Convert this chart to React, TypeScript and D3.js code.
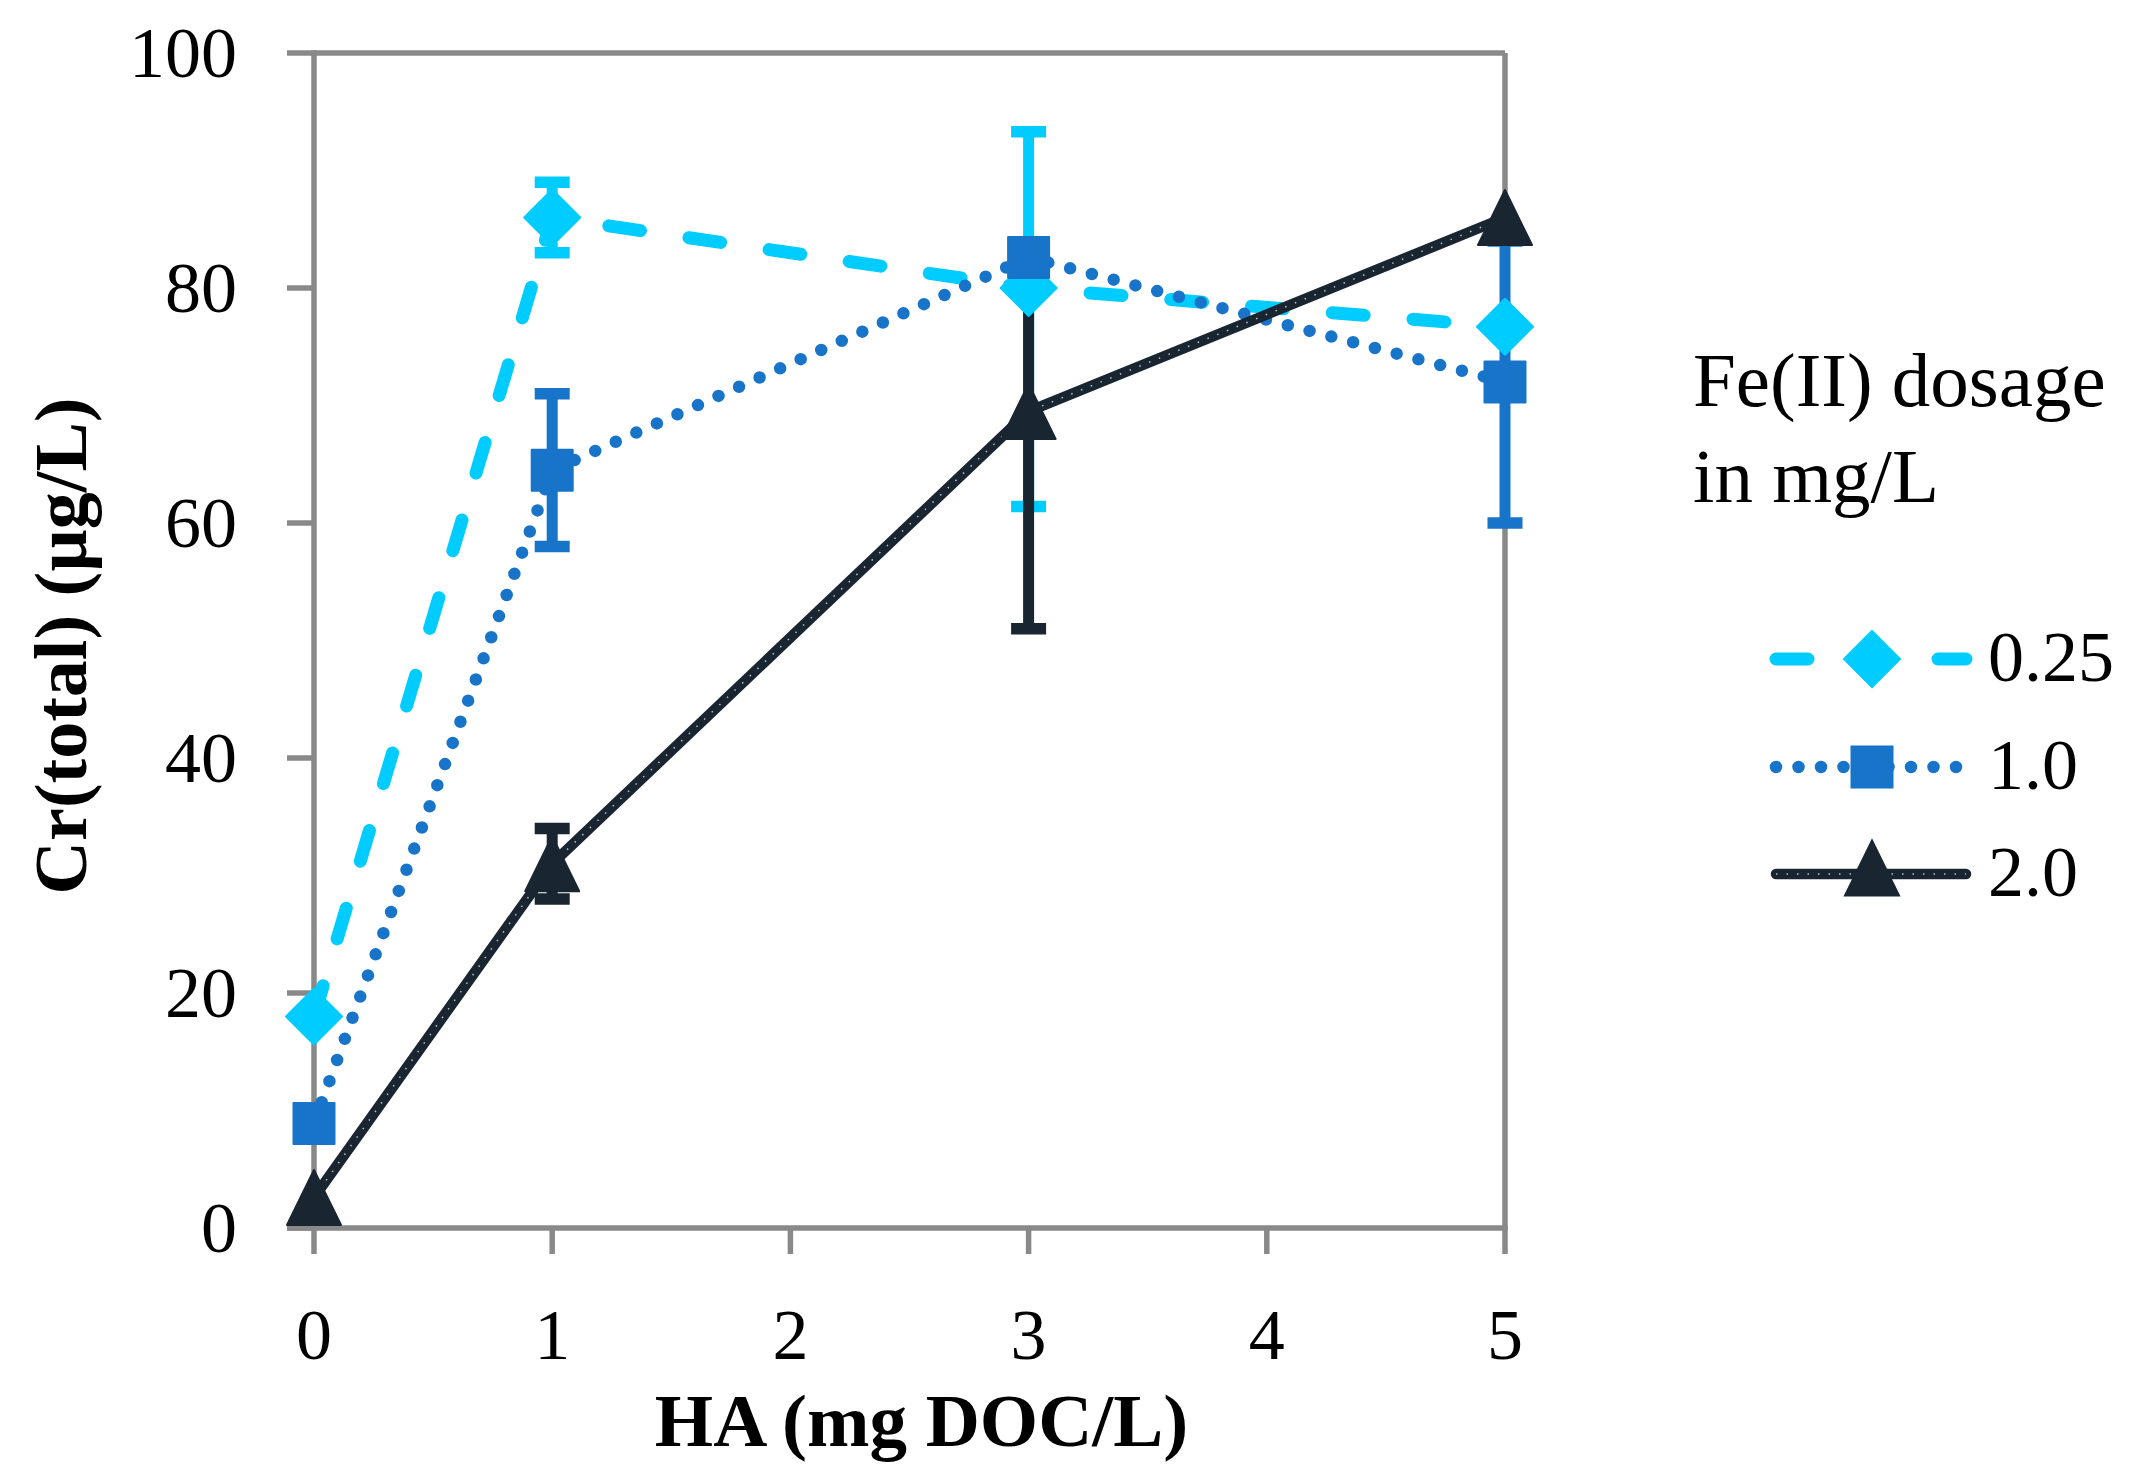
import { useEffect, useRef } from "react";
import * as d3 from "d3";

// HA dose on the x axis (mg DOC/L)
const haDoses = [0, 1, 3, 5];
const xTicks = [0, 1, 2, 3, 4, 5];
const yTicks = [0, 20, 40, 60, 80, 100];

const seriesNames = ["0.25", "1.0", "2.0"];

// Cr(total) in µg/L, with error bar ends
const crFe025 = [18, 86, 80, 76.7];
const lowFe025 = [18, 83, 61.4, 76.7];
const highFe025 = [18, 89, 93.3, 76.7];

const crFe10 = [8.9, 64.5, 82.6, 72];
const lowFe10 = [8.9, 58, 82.6, 60];
const highFe10 = [8.9, 71, 82.6, 84];

const crFe20 = [2.6, 31, 69.5, 86];
const lowFe20 = [2.6, 28, 51, 86];
const highFe20 = [2.6, 34, 82, 86];

const FONT = "'Palatino Linotype', 'Book Antiqua', Palatino, 'Liberation Serif', serif";
const AXIS = "#898989";

type Style = {
  name: string;
  color: string;
  marker: "diamond" | "square" | "triangle";
  width: number;
  dash: string | null;
  values: number[];
  low: number[];
  high: number[];
};

const series: Style[] = [
  { name: seriesNames[0], color: "#00ccff", marker: "diamond", width: 13, dash: "32 49", values: crFe025, low: lowFe025, high: highFe025 },
  { name: seriesNames[1], color: "#1874c9", marker: "square", width: 12.5, dash: "0 22.5", values: crFe10, low: lowFe10, high: highFe10 },
  { name: seriesNames[2], color: "#192632", marker: "triangle", width: 10.5, dash: null, values: crFe20, low: lowFe20, high: highFe20 },
];

function markerPath(kind: string, cx: number, cy: number) {
  const p = d3.path();
  if (kind === "diamond") {
    const r = 28;
    p.moveTo(cx, cy - r);
    p.lineTo(cx + r, cy);
    p.lineTo(cx, cy + r);
    p.lineTo(cx - r, cy);
    p.closePath();
  } else if (kind === "square") {
    p.rect(cx - 20.5, cy - 20.5, 41, 41);
  } else {
    p.moveTo(cx, cy - 27.5);
    p.lineTo(cx + 27, cy + 27.5);
    p.lineTo(cx - 27, cy + 27.5);
    p.closePath();
  }
  return p.toString();
}

export default function App() {
  const svgRef = useRef<SVGSVGElement>(null);

  useEffect(() => {
    if (!svgRef.current) return;
    const width = 2135;
    const height = 1466;

    const svg = d3.select(svgRef.current).attr("width", width).attr("height", height);
    svg.selectAll("*").remove();

    const x = d3.scaleLinear().domain([0, 5]).range([314, 1505]);
    const y = d3.scaleLinear().domain([0, 100]).range([1228, 53]);

    // Frame and ticks
    const frame = svg.append("g").attr("stroke", AXIS).attr("stroke-width", 5.5).attr("fill", "none");
    frame.append("line").attr("x1", x(0)).attr("x2", x(5)).attr("y1", y(100)).attr("y2", y(100));
    frame.append("line").attr("x1", x(5)).attr("x2", x(5)).attr("y1", y(100)).attr("y2", y(0));
    frame.append("line").attr("x1", x(0)).attr("x2", x(0)).attr("y1", y(100) - 2.75).attr("y2", y(0) + 2.75);
    frame.append("line").attr("x1", x(0) - 27).attr("x2", x(5) + 2.75).attr("y1", y(0)).attr("y2", y(0));

    frame
      .selectAll(".ytick")
      .data(yTicks)
      .enter()
      .append("line")
      .attr("x1", x(0) - 27)
      .attr("x2", x(0))
      .attr("y1", (d) => y(d))
      .attr("y2", (d) => y(d));

    frame
      .selectAll(".xtick")
      .data(xTicks)
      .enter()
      .append("line")
      .attr("x1", (d) => x(d))
      .attr("x2", (d) => x(d))
      .attr("y1", y(0))
      .attr("y2", y(0) + 26);

    // Tick labels
    svg
      .append("g")
      .selectAll("text")
      .data(yTicks)
      .enter()
      .append("text")
      .attr("x", 237)
      .attr("y", (d) => y(d) + 24)
      .attr("text-anchor", "end")
      .style("font-family", FONT)
      .style("font-size", "72px")
      .text((d) => d);

    svg
      .append("g")
      .selectAll("text")
      .data(xTicks)
      .enter()
      .append("text")
      .attr("x", (d) => x(d))
      .attr("y", 1359)
      .attr("text-anchor", "middle")
      .style("font-family", FONT)
      .style("font-size", "72px")
      .text((d) => d);

    // Axis titles
    svg
      .append("text")
      .attr("x", (x(0) + x(5)) / 2 + 12)
      .attr("y", 1446)
      .attr("text-anchor", "middle")
      .style("font-family", FONT)
      .style("font-size", "75px")
      .style("font-weight", "bold")
      .text("HA (mg DOC/L)");

    svg
      .append("text")
      .attr("transform", "translate(86,646) rotate(-90)")
      .attr("text-anchor", "middle")
      .style("font-family", FONT)
      .style("font-size", "74px")
      .style("font-weight", "bold")
      .text("Cr(total) (µg/L)");

    const line = d3
      .line<number>()
      .x((d, i) => x(haDoses[i]))
      .y((d) => y(d));

    // Series lines
    series.forEach((s) => {
      const path = svg
        .append("path")
        .attr("d", line(s.values))
        .attr("fill", "none")
        .attr("stroke", s.color)
        .attr("stroke-width", s.width)
        .attr("stroke-linecap", "round")
        .attr("stroke-linejoin", "round");
      if (s.dash) path.attr("stroke-dasharray", s.dash);
      if (!s.dash) {
        svg
          .append("path")
          .attr("d", line(s.values))
          .attr("fill", "none")
          .attr("stroke", "#ffffff")
          .attr("stroke-opacity", 0.7)
          .attr("stroke-width", 1.5)
          .attr("stroke-dasharray", "1.5 9");
      }
    });

    // Error bars
    series.forEach((s) => {
      const g = svg.append("g").attr("stroke", s.color).attr("fill", "none");
      s.values.forEach((v, i) => {
        const cx = x(haDoses[i]);
        const ends = [s.low[i], s.high[i]].filter((e) => e !== v);
        ends.forEach((e) => {
          g.append("line").attr("x1", cx).attr("x2", cx).attr("y1", y(v)).attr("y2", y(e)).attr("stroke-width", 11);
          g.append("line")
            .attr("x1", cx - 17.5)
            .attr("x2", cx + 17.5)
            .attr("y1", y(e))
            .attr("y2", y(e))
            .attr("stroke-width", 11.5);
        });
      });
    });

    // Markers
    series.forEach((s) => {
      svg
        .append("g")
        .selectAll("path")
        .data(s.values)
        .enter()
        .append("path")
        .attr("d", (d, i) => markerPath(s.marker, x(haDoses[i]), y(d)))
        .attr("fill", s.color)
        .attr("stroke", s.color)
        .attr("stroke-width", 2)
        .attr("stroke-linejoin", "round");
    });

    // Legend
    const legend = svg.append("g");
    legend
      .append("text")
      .attr("x", 1693)
      .attr("y", 406)
      .style("font-family", FONT)
      .style("font-size", "77px")
      .text("Fe(II) dosage");
    legend
      .append("text")
      .attr("x", 1693)
      .attr("y", 502)
      .style("font-family", FONT)
      .style("font-size", "77px")
      .text("in mg/L");

    const legendY = d3.scaleOrdinal<string, number>().domain(seriesNames).range([659, 767, 874]);

    series.forEach((s) => {
      const ly = legendY(s.name);
      const l = legend
        .append("line")
        .attr("x1", 1776)
        .attr("x2", 1966)
        .attr("y1", ly)
        .attr("y2", ly)
        .attr("stroke", s.color)
        .attr("stroke-width", s.width)
        .attr("stroke-linecap", "round");
      if (s.dash) l.attr("stroke-dasharray", s.dash);
      else
        legend
          .append("line")
          .attr("x1", 1776)
          .attr("x2", 1966)
          .attr("y1", ly)
          .attr("y2", ly)
          .attr("stroke", "#ffffff")
          .attr("stroke-opacity", 0.7)
          .attr("stroke-width", 1.5)
          .attr("stroke-dasharray", "1.5 9");
      legend
        .append("path")
        .attr("d", markerPath(s.marker, 1872, ly - (s.marker === "triangle" ? 6 : 0)))
        .attr("fill", s.color)
        .attr("stroke", s.color)
        .attr("stroke-width", 2);
      legend
        .append("text")
        .attr("x", 1988)
        .attr("y", ly + 22)
        .style("font-family", FONT)
        .style("font-size", "72px")
        .text(s.name);
    });
  }, []);

  return (
    <div style={{ position: "absolute", left: 0, top: 0 }}>
      <svg ref={svgRef} style={{ display: "block", background: "#ffffff" }}></svg>
    </div>
  );
}
